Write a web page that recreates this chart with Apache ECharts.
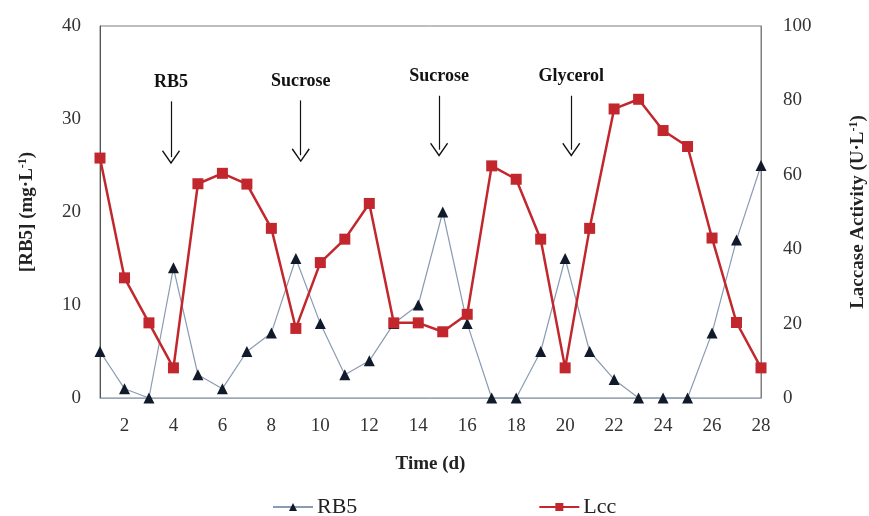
<!DOCTYPE html>
<html>
<head>
<meta charset="utf-8">
<title>RB5 / Laccase</title>
<script src="https://cdn.jsdelivr.net/npm/echarts@6/dist/echarts.min.js"></script>
<style>
  html, body { margin: 0; padding: 0; background: #fff; }
  #chart { width: 869px; height: 516px; }
</style>
</head>
<body>
<div id="chart"></div>
<script>
// days 1..28
const days = [1, 2, 3, 4, 5, 6, 7, 8, 9, 10, 11, 12, 13, 14, 15, 16, 17, 18, 19, 20, 21, 22, 23, 24, 25, 26, 27, 28];
// [RB5] mg/L (left axis)
const rb5 = [5, 1, 0, 14, 2.5, 1, 5, 7, 15, 8, 2.5, 4, 8, 10, 20, 8, 0, 0, 5, 15, 5, 2, 0, 0, 0, 7, 17, 25];
// laccase activity U/L (right axis)
const lcc = [64.5, 32.3, 20.2, 8.1, 57.6, 60.4, 57.5, 45.6, 18.7, 36.4, 42.7, 52.3, 20.2, 20.2, 17.8, 22.5, 62.4, 58.8, 42.7, 8.1, 45.6, 77.7, 80.3, 71.9, 67.6, 43, 20.3, 8.1];
const xTickLabels = [2, 4, 6, 8, 10, 12, 14, 16, 18, 20, 22, 24, 26, 28];

// additions (arrows), in left-axis units
const annoNames = ['RB5', 'Sucrose', 'Sucrose', 'Glycerol'];
const annoDays = [3.9, 9.2, 14.85, 20.25];
const annoTop = [31.9, 32.0, 32.5, 32.5];
const annoBottom = [25.9, 26.1, 26.7, 26.7];

const serif = '"Liberation Serif", "Times New Roman", serif';
const chevron = 'path://M0,11 L9,0 L18,11 L17,12 L9,2 L1,12 Z';

const arrowData = annoNames.map((n, i) => [
  { name: n, coord: [annoDays[i], annoTop[i]] },
  { coord: [annoDays[i], annoBottom[i]] }
]);

const subRich = {
  a: { fontFamily: serif, fontSize: 19, fontWeight: 'bold', color: '#222' },
  s: { fontFamily: serif, fontSize: 12, fontWeight: 'bold', color: '#222', verticalAlign: 'top', padding: [0, 0, 8, 0] }
};

const chart = echarts.init(document.getElementById('chart'));
chart.setOption({
  animation: false,
  grid: {
    left: 100, right: 108, top: 26, bottom: 118,
    outerBoundsMode: 'none',
    show: true, borderColor: '#7f7f7f', borderWidth: 1
  },
  legend: {
    top: 491,
    left: 267,
    itemWidth: 40,
    itemHeight: 10,
    itemGap: 181,
    textStyle: { fontFamily: serif, fontSize: 22, color: '#222', padding: [0, 0, 0, -1] },
    data: ['RB5', 'Lcc']
  },
  xAxis: {
    type: 'value',
    min: 1, max: 28, interval: 1,
    name: 'Time (d)',
    nameLocation: 'middle',
    nameGap: 57,
    nameTextStyle: { fontFamily: serif, fontSize: 19, fontWeight: 'bold', color: '#222' },
    axisLine: { lineStyle: { color: '#9aa8bb', width: 1 } },
    axisTick: { show: false },
    splitLine: { show: false },
    axisLabel: {
      margin: 19,
      fontFamily: serif, fontSize: 19, color: '#333',
      showMinLabel: true, showMaxLabel: true,
      formatter: v => xTickLabels.indexOf(v) >= 0 ? String(v) : ''
    }
  },
  yAxis: [
    {
      type: 'value',
      min: 0, max: 40, interval: 10,
      name: '{a|[RB5] (mg·L}{s|-1}{a|)}',
      nameLocation: 'middle',
      nameRotate: 90,
      nameGap: 63,
      nameTextStyle: { rich: subRich },
      axisLine: { show: true, lineStyle: { color: '#555', width: 1 } },
      axisTick: { show: false },
      splitLine: { show: false },
      axisLabel: { margin: 19, fontFamily: serif, fontSize: 19, color: '#333' }
    },
    {
      type: 'value',
      min: 0, max: 100, interval: 20,
      position: 'right',
      name: '{a|Laccase Activity (U·L}{s|-1}{a|)}',
      nameLocation: 'middle',
      nameRotate: 90,
      nameGap: 87,
      nameTextStyle: { rich: subRich },
      axisLine: { show: true, lineStyle: { color: '#7f7f7f', width: 1 } },
      axisTick: { show: false },
      splitLine: { show: false },
      axisLabel: { margin: 22, fontFamily: serif, fontSize: 19, color: '#333' }
    }
  ],
  series: [
    {
      name: 'RB5',
      type: 'line',
      yAxisIndex: 0,
      data: days.map((d, i) => [d, rb5[i]]),
      symbol: 'triangle',
      symbolSize: 11,
      showAllSymbol: true,
      lineStyle: { color: '#8a9bb3', width: 1.2 },
      itemStyle: { color: '#111a2b' },
      markLine: {
        silent: true,
        symbol: ['none', chevron],
        symbolSize: [18, 14],
        lineStyle: { color: '#111', width: 1.2, type: 'solid' },
        label: {
          show: true,
          position: 'start',
          distance: 10,
          formatter: '{b}',
          fontFamily: serif, fontSize: 18, fontWeight: 'bold', color: '#111'
        },
        data: arrowData
      }
    },
    {
      name: 'Lcc',
      type: 'line',
      yAxisIndex: 1,
      data: days.map((d, i) => [d, lcc[i]]),
      symbol: 'rect',
      symbolSize: 11,
      showAllSymbol: true,
      lineStyle: { color: '#c1272d', width: 2.5 },
      itemStyle: { color: '#c1272d' }
    }
  ]
});
</script>
</body>
</html>
